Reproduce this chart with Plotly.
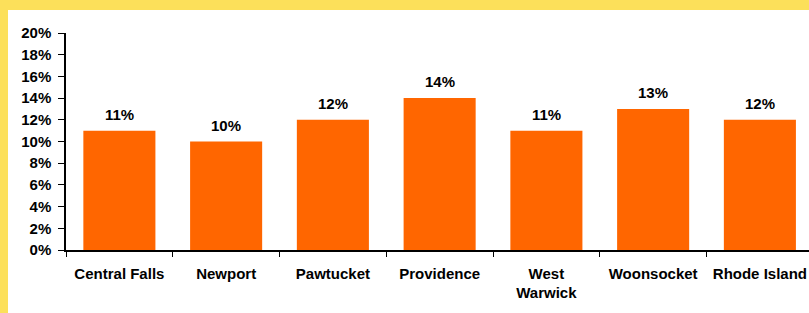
import plotly.graph_objects as go

categories = ["Central Falls", "Newport", "Pawtucket", "Providence", "West<br>Warwick", "Woonsocket", "Rhode Island"]
values = [11, 10, 12, 14, 11, 13, 12]
value_labels = ["11%", "10%", "12%", "14%", "11%", "13%", "12%"]
y_tickvals = [0, 2, 4, 6, 8, 10, 12, 14, 16, 18, 20]
y_ticktext = ["0%", "2%", "4%", "6%", "8%", "10%", "12%", "14%", "16%", "18%", "20%"]

FONT = dict(family="Arial, Liberation Sans, sans-serif", size=15, color="#000000")
YELLOW = "#FCE05A"
ORANGE = "#FF6600"

W, H = 809, 313
L, R, T, B = 66, 0, 33, 63
pw, ph = W - L - R, H - T - B

fig = go.Figure()
fig.add_trace(go.Bar(
    x=categories, y=values, marker=dict(color=ORANGE, line=dict(width=0)),
    width=0.675, hoverinfo="skip", cliponaxis=False,
))

for c, v, t in zip(categories, values, value_labels):
    fig.add_annotation(x=c, y=v, text="<b>%s</b>" % t, showarrow=False,
                       yanchor="bottom", yshift=6, font=FONT)

def px_x(p):
    return (p - L) / pw

def px_y(p):
    return (H - B - p) / ph

# yellow frame strips (top and left)
fig.add_shape(type="rect", xref="paper", yref="paper",
              x0=px_x(0), x1=px_x(W), y0=px_y(10), y1=px_y(0),
              fillcolor=YELLOW, line=dict(width=0), layer="below")
fig.add_shape(type="rect", xref="paper", yref="paper",
              x0=px_x(0), x1=px_x(8), y0=px_y(H), y1=px_y(0),
              fillcolor=YELLOW, line=dict(width=0), layer="below")

fig.update_layout(
    width=W, height=H,
    margin=dict(l=L, r=R, t=T, b=B, pad=0),
    paper_bgcolor="#FFFFFF", plot_bgcolor="#FFFFFF",
    showlegend=False, bargap=0.325,
    font=FONT,
)
fig.update_xaxes(
    type="category", range=[-0.5, 6.46],
    showline=True, linecolor="#000000", linewidth=1.5,
    ticks="outside", tickson="boundaries", ticklen=5, tickcolor="#000000",
    tickvals=categories, ticktext=["<b>%s</b>" % c for c in categories],
    showgrid=False, zeroline=False, tickfont=FONT, ticklabelstandoff=9,
)
fig.update_yaxes(
    range=[0, 20], tickvals=y_tickvals,
    ticktext=["<b>%s</b>" % t for t in y_ticktext],
    showline=True, linecolor="#000000", linewidth=1.5,
    ticks="outside", ticklen=6, tickcolor="#000000",
    showgrid=False, zeroline=False, tickfont=FONT, ticklabelstandoff=4,
)

fig.write_html("out.html", config={"displayModeBar": False},
               post_script="document.body.style.margin='0';document.body.style.overflow='hidden';")
